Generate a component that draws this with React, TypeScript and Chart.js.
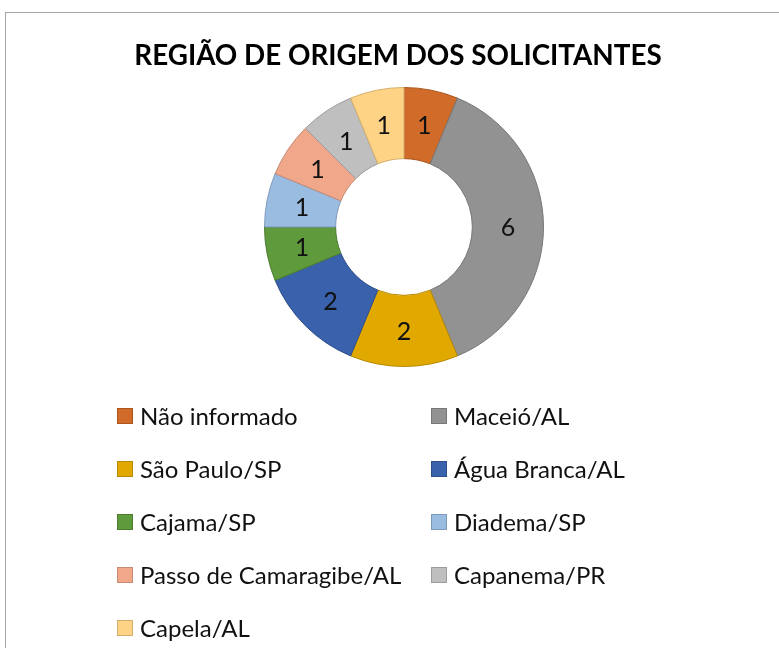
import React, { useEffect, useRef } from "react";
import { Chart, registerables } from "chart.js";

Chart.register(...registerables);

const TITLE = "REGIÃO DE ORIGEM DOS SOLICITANTES";
const labels = [
  "Não informado",
  "Maceió/AL",
  "São Paulo/SP",
  "Água Branca/AL",
  "Cajama/SP",
  "Diadema/SP",
  "Passo de Camaragibe/AL",
  "Capanema/PR",
  "Capela/AL",
];
const values = [1, 6, 2, 2, 1, 1, 1, 1, 1];
const colors = [
  "#D06B2A",
  "#929292",
  "#E1A900",
  "#3A61AB",
  "#5F9A3D",
  "#9BBCE1",
  "#F0A78A",
  "#BFBFBF",
  "#FFD385",
];
const borderColors = [
  "#A9561F",
  "#777777",
  "#B78900",
  "#2E4E8A",
  "#4C7B31",
  "#7E9AB9",
  "#C68A72",
  "#9C9C9C",
  "#D3AE6C",
];

const FONT = "Lato, 'Open Sans', sans-serif";

const labelPlugin = {
  id: "sliceLabels",
  afterDatasetsDraw(chart: any) {
    const ctx = chart.ctx;
    const meta = chart.getDatasetMeta(0);
    ctx.save();
    ctx.font = `25px ${FONT}`;
    ctx.fillStyle = "#111";
    ctx.textAlign = "center";
    ctx.textBaseline = "middle";
    meta.data.forEach((arc: any, i: number) => {
      const p = arc.tooltipPosition();
      ctx.fillText(String(chart.data.datasets[0].data[i]), p.x, p.y + 1);
    });
    ctx.restore();
  },
};

export default function App() {
  const ref = useRef<HTMLCanvasElement>(null);
  useEffect(() => {
    if (!ref.current) return;
    const chart = new Chart(ref.current, {
      type: "doughnut",
      data: {
        labels,
        datasets: [
          {
            data: values,
            backgroundColor: colors,
            borderColor: borderColors,
            borderWidth: 1,
          },
        ],
      },
      options: {
        animation: false,
        responsive: false,
        cutout: "49%",
        layout: { padding: { left: 264, right: 235, top: 87, bottom: 281 } },
        plugins: {
          legend: { display: false },
          title: { display: false },
          tooltip: { enabled: false },
        },
      },
      plugins: [labelPlugin],
    });
    return () => chart.destroy();
  }, []);

  return (
    <div
      style={{
        position: "fixed",
        left: 0,
        top: 0,
        width: 779,
        height: 648,
        background: "#fff",
        overflow: "hidden",
        fontFamily: FONT,
      }}
    >
      <div
        style={{
          position: "absolute",
          left: 5,
          top: 12,
          width: 800,
          height: 700,
          borderLeft: "1.5px solid #A6A6A6",
          borderTop: "1.5px solid #A6A6A6",
        }}
      />
      <canvas
        ref={ref}
        width={779}
        height={648}
        style={{ position: "absolute", left: 0, top: 0 }}
      />
      <div
        style={{
          position: "absolute",
          left: 0,
          top: 37,
          width: 796,
          textAlign: "center",
          fontWeight: 700,
          fontSize: 27.8,
          color: "#000",
          lineHeight: "36px",
          whiteSpace: "nowrap",
        }}
      >
        {TITLE}
      </div>
      {labels.map((l, i) => {
        const col = i % 2;
        const row = Math.floor(i / 2);
        const cy = 416 + row * 53;
        return (
          <div
            key={l}
            style={{
              position: "absolute",
              left: col === 0 ? 117 : 431,
              top: cy - 16,
              height: 30,
              display: "flex",
              alignItems: "center",
              whiteSpace: "nowrap",
              fontSize: 24,
              color: "#111",
            }}
          >
            <span
              style={{
                display: "inline-block",
                width: 14,
                height: 14,
                background: colors[i],
                border: `1px solid ${borderColors[i]}`,
                marginRight: 7,
                position: "relative",
                top: 1,
              }}
            />
            {l}
          </div>
        );
      })}
    </div>
  );
}
